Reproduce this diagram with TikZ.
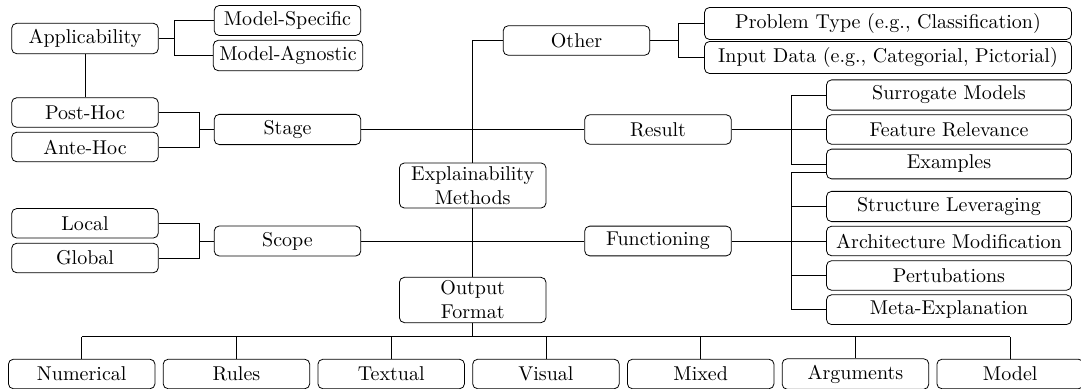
\documentclass[tikz,border=0pt]{standalone}
\usetikzlibrary{calc}
\begin{document}
\begin{tikzpicture}[x=0.5pt,y=-0.5pt,
  box/.style={draw, rounded corners=2.5pt, line width=0.4pt, minimum width=73.3pt,
              minimum height=14.75pt, inner sep=3pt, font=\normalsize},
  wide/.style={box, minimum width=122.5pt},
  wider/.style={box, minimum width=183.5pt},
  twoline/.style={box, align=center, inner ysep=1.75pt},
  link/.style={line width=0.4pt}]
\useasboundingbox (0,0) rectangle (1081,389);

% left branches
\node[box] (app)  at (85,38.5)    {Applicability};
\node[box] (ms)   at (287.5,20.5) {Model-Specific};
\node[box] (ma)   at (288,55.5)   {Model-Agnostic};
\node[box] (post) at (85,112.5)   {Post-Hoc};
\node[box] (ante) at (85,147)     {Ante-Hoc};
\node[box] (stage) at (287.5,129.5) {Stage};
\node[box] (loc)  at (85,223.3)   {Local};
\node[box] (glo)  at (85,258)     {Global};
\node[box] (scope) at (287.5,241) {Scope};

% centre
\node[twoline] (em) at (472.7,185.5) {Explainability\\Methods};
\node[twoline] (of) at (472.7,300)   {Output\\Format};
\node[box] (other) at (576.5,40.5) {Other};
\node[box] (res)   at (658,129.5)  {Result};
\node[box] (func)  at (658,241)    {Functioning};

% right branches
\node[wider] (pt) at (888,23.5) {Problem Type (e.g., Classification)};
\node[wider] (id) at (888,57.5) {Input Data (e.g., Categorial, Pictorial)};
\node[wide] (sm) at (949,95)    {Surrogate Models};
\node[wide] (fr) at (949,129.5) {Feature Relevance};
\node[wide] (ex) at (949,164)   {Examples};
\node[wide] (sl) at (949,206.5) {Structure Leveraging};
\node[wide] (am) at (949,241)   {Architecture Modification};
\node[wide] (pe) at (949,275.5) {Pertubations};
\node[wide] (me) at (949,309.7) {Meta-Explanation};

% output formats
\foreach \n/\t [count=\i from 0] in {num/Numerical, rul/Rules, txt/Textual, vis/Visual,
                                     mix/Mixed, arg/Arguments, mod/Model}
  \node[box] (\n) at (81.7+154.75*\i,374) {\t};

% junction columns
\coordinate (aj) at (174,0);
\coordinate (sj) at (199,0);
\coordinate (oj) at (678,0);
\coordinate (rj) at (791,0);
\coordinate (bus) at (0,336.7);
\coordinate (exl) at ([yshift=-4pt]ex.west);

% applicability
\draw[link] (app.east) -- (aj |- app.east);
\draw[link] (ms.west) -- (aj |- ms.west) -- (aj |- ma.west) -- (ma.west);
\draw[link] (app.south) -- (post.north);

% stage
\draw[link] (post.east) -- (sj |- post.east) -- (sj |- ante.east) -- (ante.east);
\draw[link] (sj |- stage.west) -- (stage.west);
\draw[link] (stage.east) -- (res.west);

% scope
\draw[link] (loc.east) -- (sj |- loc.east) -- (sj |- glo.east) -- (glo.east);
\draw[link] (sj |- scope.west) -- (scope.west);
\draw[link] (scope.east) -- (func.west);

% centre spine
\draw[link] (em.north) |- (other.west);
\draw[link] (em.south) -- (of.north);

% other
\draw[link] (other.east) -- (oj |- other.east);
\draw[link] (pt.west) -- (oj |- pt.west) -- (oj |- id.west) -- (id.west);

% result
\draw[link] (res.east) -- (fr.west);
\draw[link] (sm.west) -- (rj |- sm.west) -- (rj |- ex.west) -- (ex.west);

% functioning
\draw[link] (exl) -- (rj |- exl) -- (rj |- me.west) -- (me.west);
\draw[link] (rj |- sl.west) -- (sl.west);
\draw[link] (func.east) -- (am.west);
\draw[link] (rj |- pe.west) -- (pe.west);

% output format bus
\draw[link] (of.south) -- (of.south |- bus);
\draw[link] (num.north |- bus) -- (mod.north |- bus);
\foreach \n in {num,rul,txt,vis,mix,arg,mod}
  \draw[link] (\n.north) -- (\n.north |- bus);
\end{tikzpicture}
\end{document}
